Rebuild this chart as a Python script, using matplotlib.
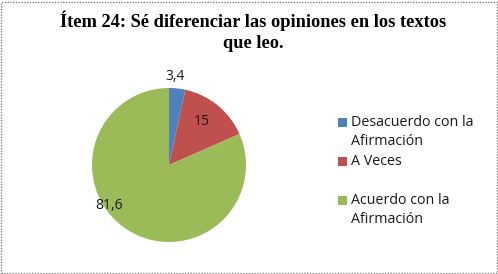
import matplotlib
matplotlib.use("Agg")
import matplotlib.pyplot as plt
from matplotlib.patches import Rectangle

title = "Ítem 24: Sé diferenciar las opiniones en los textos\nque leo."
categories = ["Desacuerdo con la\nAfirmación", "A Veces", "Acuerdo con la\nAfirmación"]
values = [3.4, 15, 81.6]
value_labels = ["3,4", "15", "81,6"]
colors = ["#4F81BD", "#C0504D", "#9BBB59"]

fig = plt.figure(figsize=(4.98, 2.74), dpi=100)
fig.patch.set_facecolor("white")

# border
fig.patches.append(Rectangle((0.002, 0.004), 0.995, 0.99, transform=fig.transFigure,
                             fill=False, edgecolor="#808080", linestyle=(0, (1, 1)), linewidth=1))

fig.text(0.509, 0.96, title, ha="center", va="top", fontsize=13.2, fontweight="bold",
         family="Liberation Serif", linespacing=1.25)

cx, cy, r = 169 / 498, 1 - 165 / 274, 77
ax = fig.add_axes([cx - r / 498, cy - r / 274, 2 * r / 498, 2 * r / 274])
wedges, _ = ax.pie(values, colors=colors, startangle=90, counterclock=False, radius=1,
                   wedgeprops=dict(linewidth=0))
ax.set_xlim(-1, 1)
ax.set_ylim(-1, 1)
ax.set_aspect("auto")
ax.axis("off")

label_pos = [(0.08, 1.15), (0.43, 0.56), (-0.78, -0.53)]
for (x, y), t in zip(label_pos, value_labels):
    ax.text(x, y, t, ha="center", va="center", fontsize=10, family="Open Sans", color="#1a1a1a")

# legend
slot_tops = [123, 162, 201]
for top, lab, c in zip(slot_tops, categories, colors):
    fig.patches.append(Rectangle((338 / 498, 1 - (top + 4) / 274), 9 / 498, 9 / 274,
                                 transform=fig.transFigure, facecolor=c, edgecolor="none"))
    fig.text(351 / 498, 1 - (top - 8) / 274, lab, ha="left", va="top", fontsize=10.3,
             family="Open Sans", linespacing=1.35, color="#1a1a1a")

fig.savefig("out.png", dpi=100)
